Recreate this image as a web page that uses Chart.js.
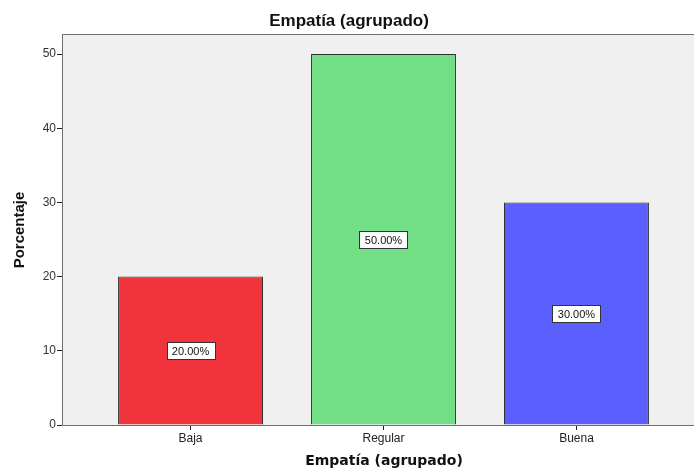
<!DOCTYPE html>
<html><head><meta charset="utf-8">
<script src="https://cdn.jsdelivr.net/npm/chart.js@4/dist/chart.umd.min.js"></script>
<style>html,body{margin:0;padding:0;background:#fff;}#wrap{width:694px;height:469px;}</style>
</head><body><div id="wrap"><canvas id="c" width="694" height="469"></canvas></div>
<script>
const categories = ["Baja", "Regular", "Buena"];
const percentages = [20, 50, 30];
const barColors = ["#f1343b", "#72de86", "#5b5ffe"];
const yTicks = [0, 10, 20, 30, 40, 50];
const chartTitle = "Empatía (agrupado)";
const xTitle = "Empatía (agrupado)";
const yTitle = "Porcentaje";

const FONT = "'Liberation Sans', Arial, sans-serif";

const framePlugin = {
  id: 'frame',
  beforeDatasetsDraw(chart) {
    const {ctx, chartArea: a} = chart;
    ctx.save();
    ctx.fillStyle = '#f0f0f0';
    ctx.fillRect(a.left, a.top, a.right - a.left, a.bottom - a.top);
    ctx.restore();
  },
  afterDatasetsDraw(chart) {
    const {ctx, chartArea: a} = chart;
    ctx.save();
    ctx.strokeStyle = '#6e6e6e';
    ctx.lineWidth = 1;
    ctx.beginPath();
    ctx.moveTo(a.right + 5, a.top + 0.5);
    ctx.lineTo(a.left + 0.5, a.top + 0.5);
    ctx.lineTo(a.left + 0.5, a.bottom + 0.5);
    ctx.lineTo(a.right + 5, a.bottom + 0.5);
    ctx.stroke();
    // value labels
    const meta = chart.getDatasetMeta(0);
    const ys = chart.scales.y;
    ctx.font = "11px " + FONT;
    ctx.textAlign = 'center';
    ctx.textBaseline = 'middle';
    meta.data.forEach((bar, i) => {
      const v = percentages[i];
      const txt = v.toFixed(2) + '%';
      const cx = bar.x;
      const cy = ys.getPixelForValue(v / 2);
      const w = 48, h = 17;
      const x0 = Math.round(cx - w / 2) + 0.5, y0 = Math.round(cy - h / 2) + 0.5;
      ctx.fillStyle = '#ffffff';
      ctx.fillRect(x0, y0, w, h);
      ctx.strokeStyle = '#333333';
      ctx.strokeRect(x0, y0, w, h);
      ctx.fillStyle = '#111111';
      ctx.fillText(txt, cx, cy + 1);
    });
    // titles
    ctx.fillStyle = '#111111';
    ctx.textAlign = 'center';
    ctx.textBaseline = 'middle';
    ctx.font = "bold 17px " + FONT;
    ctx.fillText(chartTitle, 349, 21);
    ctx.font = "bold 14px 'DejaVu Sans', Verdana, sans-serif";
    ctx.fillText(xTitle, 384, 461);
    ctx.font = "bold 15px " + FONT;
    ctx.translate(20, 230);
    ctx.rotate(-Math.PI / 2);
    ctx.fillText(yTitle, 0, 0);
    ctx.restore();
  }
};

new Chart(document.getElementById('c'), {
  type: 'bar',
  data: {
    datasets: [{
      data: categories.map((c, i) => ({x: i, y: percentages[i]})),
      backgroundColor: barColors,
      borderColor: '#2e2e2e',
      borderWidth: 1,
      borderSkipped: 'bottom',
      categoryPercentage: 1,
      barPercentage: 0.751
    }]
  },
  options: {
    responsive: false,
    animation: false,
    layout: {padding: {left: 0, right: 0, top: 34, bottom: 0}},
    plugins: {legend: {display: false}, tooltip: {enabled: false}, title: {display: false}},
    scales: {
      x: {
        type: 'linear',
        offset: false,
        min: -0.666,
        max: 2.609,
        afterBuildTicks(s) { s.ticks = categories.map((c, i) => ({value: i})); },
        afterFit(s) { s.height = 44; },
        grid: {offset: false, drawOnChartArea: false, drawTicks: true, tickLength: 5, color: '#222', tickColor: '#222'},
        border: {display: false},
        ticks: {
          padding: 1,
          color: '#222',
          font: {family: FONT, size: 12},
          callback: (v) => categories[v] !== undefined ? categories[v] : ''
        }
      },
      y: {
        min: 0,
        max: 52.7,
        afterBuildTicks(s) { s.ticks = yTicks.map(v => ({value: v})); },
        afterFit(s) { s.width = 62; },
        grid: {drawOnChartArea: false, drawTicks: true, tickLength: 5, color: '#222', tickColor: '#222'},
        border: {display: false},
        ticks: {
          padding: 1,
          color: '#333',
          font: {family: FONT, size: 12}
        }
      }
    }
  },
  plugins: [framePlugin]
});
</script>
</body></html>
